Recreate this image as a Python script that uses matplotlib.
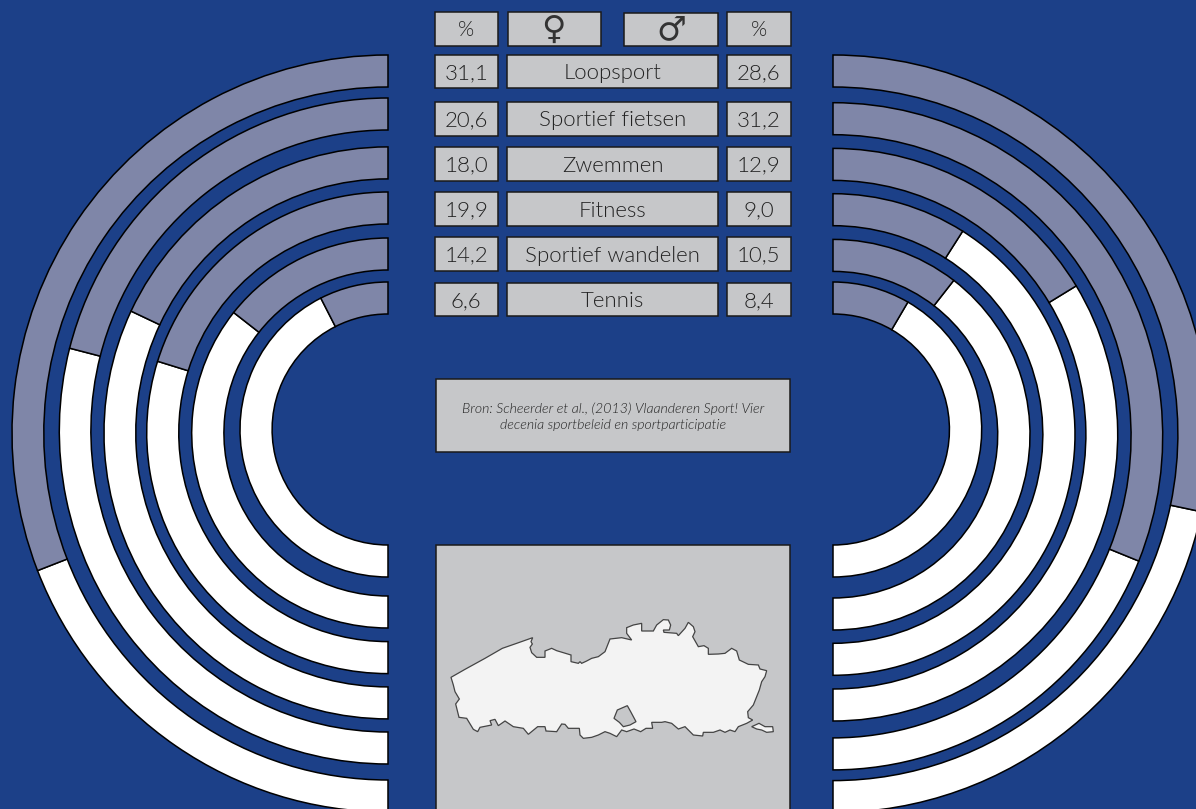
import matplotlib
matplotlib.use('Agg')
import matplotlib.pyplot as plt
from matplotlib.patches import Wedge, Rectangle, Polygon
from matplotlib.transforms import Affine2D

plt.rcParams['font.family'] = ['Lato', 'DejaVu Sans']

# top row first
sports = ['Loopsport', 'Sportief fietsen', 'Zwemmen', 'Fitness', 'Sportief wandelen', 'Tennis']
label_women = ['31,1', '20,6', '18,0', '19,9', '14,2', '6,6']
label_men = ['28,6', '31,2', '12,9', '9,0', '10,5', '8,4']

# percentages as the arcs are really drawn (a few do not agree with their label)
arc_women = [30.9, 21.0, 18.0, 20.2, 14.4, 7.5]
arc_men = [28.3, 31.1, 16.3, 9.0, 10.5, 8.4]

# Flanders outline, in three runs
west_top_x = [18, 60, 120, 172, 215, 263, 258, 262, 255, 260, 275, 300, 300, 320, 335, 378, 378, 400, 405, 410, 425, 440, 460, 480]
west_top_y = [142, 118, 85, 55, 40, 23, 35, 42, 52, 68, 82, 82, 63, 55, 62, 75, 95, 100, 95, 100, 93, 85, 80, 65]
east_x = [0, 35, 65, 50, 50, 70, 95, 95, 130, 140, 160, 175, 182, 178, 160, 162, 200, 205, 225, 235, 250, 255, 248, 265, 282, 295,
          295, 325, 345, 365, 380, 388, 415, 445, 450, 470, 465, 455, 448, 438, 430, 413, 415, 428, 410, 385, 375, 360, 345, 330,
          310, 280, 278, 250, 225, 205, 185, 165, 155, 125, 128, 108, 92, 72, 50, 35, 20, 0]
east_y = [72, 68, 75, 55, 38, 30, 25, 48, 48, 30, 14, 15, 30, 45, 45, 52, 55, 62, 40, 22, 35, 50, 65, 95, 92, 100,
          118, 117, 115, 100, 108, 135, 148, 150, 162, 167, 185, 200, 225, 250, 270, 290, 308, 315, 325, 335, 350, 345, 352, 345,
          352, 352, 363, 360, 335, 342, 325, 320, 322, 322, 340, 340, 350, 342, 350, 345, 365, 355]
west_bottom_x = [480, 460, 440, 415, 405, 403, 370, 360, 350, 335, 303, 300, 278, 250, 235, 205, 180, 160, 150, 135, 140, 105, 98, 85, 65, 42, 32, 43, 30, 25]
west_bottom_y = [305, 315, 322, 325, 315, 295, 295, 283, 282, 305, 303, 290, 290, 313, 295, 290, 273, 287, 268, 272, 285, 292, 305, 298, 265, 262, 222, 207, 185, 165]
hole_x = [12, 22, 52, 62, 78, 60, 40, 28]
hole_y = [310, 285, 272, 290, 320, 330, 335, 322]
enclave_x = [425, 447, 465, 488, 490, 470, 455, 440]
enclave_y = [335, 325, 335, 335, 350, 352, 345, 342]

BG = '#1c4088'
ARC = '#7f86a8'
BOX = '#c6c7c9'
INK = '#222222'

# ring centre y, top radius and widest reach sideways, top row first
left_cy = [433.5, 431, 432.9, 432.8, 433, 429.5]
left_R = [378.5, 333, 286, 240.8, 195, 147.5]
left_reach = [376, 328.7, 284, 241.3, 196.3, 148]
right_cy = [433.8, 436.3, 434.7, 434.5, 434.7, 429.5]
right_R = [378.8, 333.6, 286.3, 240.8, 195.3, 147.5]
right_reach = [376.7, 329.7, 284.7, 242, 197, 148.7]
ring_w = 32
left_x = 388
right_x = 833

row_top = [54.7, 102, 147.3, 192.3, 237.3, 282.7]
row_h = 33.5

fig = plt.figure(figsize=(11.96, 8.09), dpi=100, facecolor=BG)
ax = fig.add_axes([0, 0, 1, 1])
ax.set_xlim(0, 1196)
ax.set_ylim(809, 0)
ax.axis('off')


def ring(cx, cy, R, reach, t1, t2, color):
    # rings are a touch elliptical in the original
    tr = Affine2D().scale(reach / R, 1).translate(cx, cy) + ax.transData
    ax.add_patch(Wedge((0, 0), R, t1, t2, width=ring_w, facecolor=color, edgecolor='black', lw=1.1, transform=tr))


def box(x0, x1, y0, y1, txt=None, size=16):
    ax.add_patch(Rectangle((x0, y0), x1 - x0, y1 - y0, facecolor=BOX, edgecolor='#1a1a1a', lw=1.1))
    if txt:
        ax.text((x0 + x1) / 2, (y0 + y1) / 2 + 1.5, txt, ha='center', va='center', fontsize=size, color=INK, fontweight=300)


# y axis is flipped, so -90 is the top of the picture
for i in range(6):
    a = arc_women[i] * 3.6
    ring(left_x, left_cy[i], left_R[i], left_reach[i], 90, 270 - a, 'white')
    ring(left_x, left_cy[i], left_R[i], left_reach[i], 270 - a, 270, ARC)
    b = arc_men[i] * 3.6
    ring(right_x, right_cy[i], right_R[i], right_reach[i], -90 + b, 90, 'white')
    ring(right_x, right_cy[i], right_R[i], right_reach[i], -90, -90 + b, ARC)

# header
box(434.5, 498, 12, 45.5, '%', size=15)
box(507.5, 601, 12, 45.5)
box(624, 717.5, 12.7, 46.3)
box(727, 790.5, 12, 45.5, '%', size=15)
ax.text(553.5, 29, '\u2640', ha='center', va='center', fontsize=24, color='#333333', family='DejaVu Sans')
ax.text(671, 29.5, '\u2642', ha='center', va='center', fontsize=24, color='#333333', family='DejaVu Sans')

for i in range(6):
    y0 = row_top[i]
    box(434.5, 498, y0, y0 + row_h, label_women[i])
    box(507.3, 717.7, y0, y0 + row_h, sports[i])
    box(727, 790.5, y0, y0 + row_h, label_men[i])

box(436, 790, 379, 452)
ax.text(613, 416.5, 'Bron: Scheerder et al., (2013) Vlaanderen Sport! Vier\ndecenia sportbeleid en sportparticipatie',
        ha='center', va='center', fontsize=10.2, style='italic', color=INK, linespacing=1.35, fontweight=300)

# map panel runs off the bottom
box(436, 790, 545, 815)


def to_px(xs, ys, x0, y0):
    return [(x0 + x / 3, y0 + y / 3) for x, y in zip(xs, ys)]


outline = (to_px(west_top_x, west_top_y, 445, 630) + to_px(east_x, east_y, 610, 615)
           + to_px(west_bottom_x, west_bottom_y, 445, 630))
ax.add_patch(Polygon(outline, closed=True, facecolor='#f3f3f3', edgecolor='#444444', lw=0.9))
ax.add_patch(Polygon(to_px(hole_x, hole_y, 610, 615), closed=True, facecolor=BOX, edgecolor='#444444', lw=0.9))
ax.add_patch(Polygon(to_px(enclave_x, enclave_y, 610, 615), closed=True, facecolor='#f3f3f3', edgecolor='#444444', lw=0.9))

fig.savefig('out.png', dpi=100, facecolor=BG)
